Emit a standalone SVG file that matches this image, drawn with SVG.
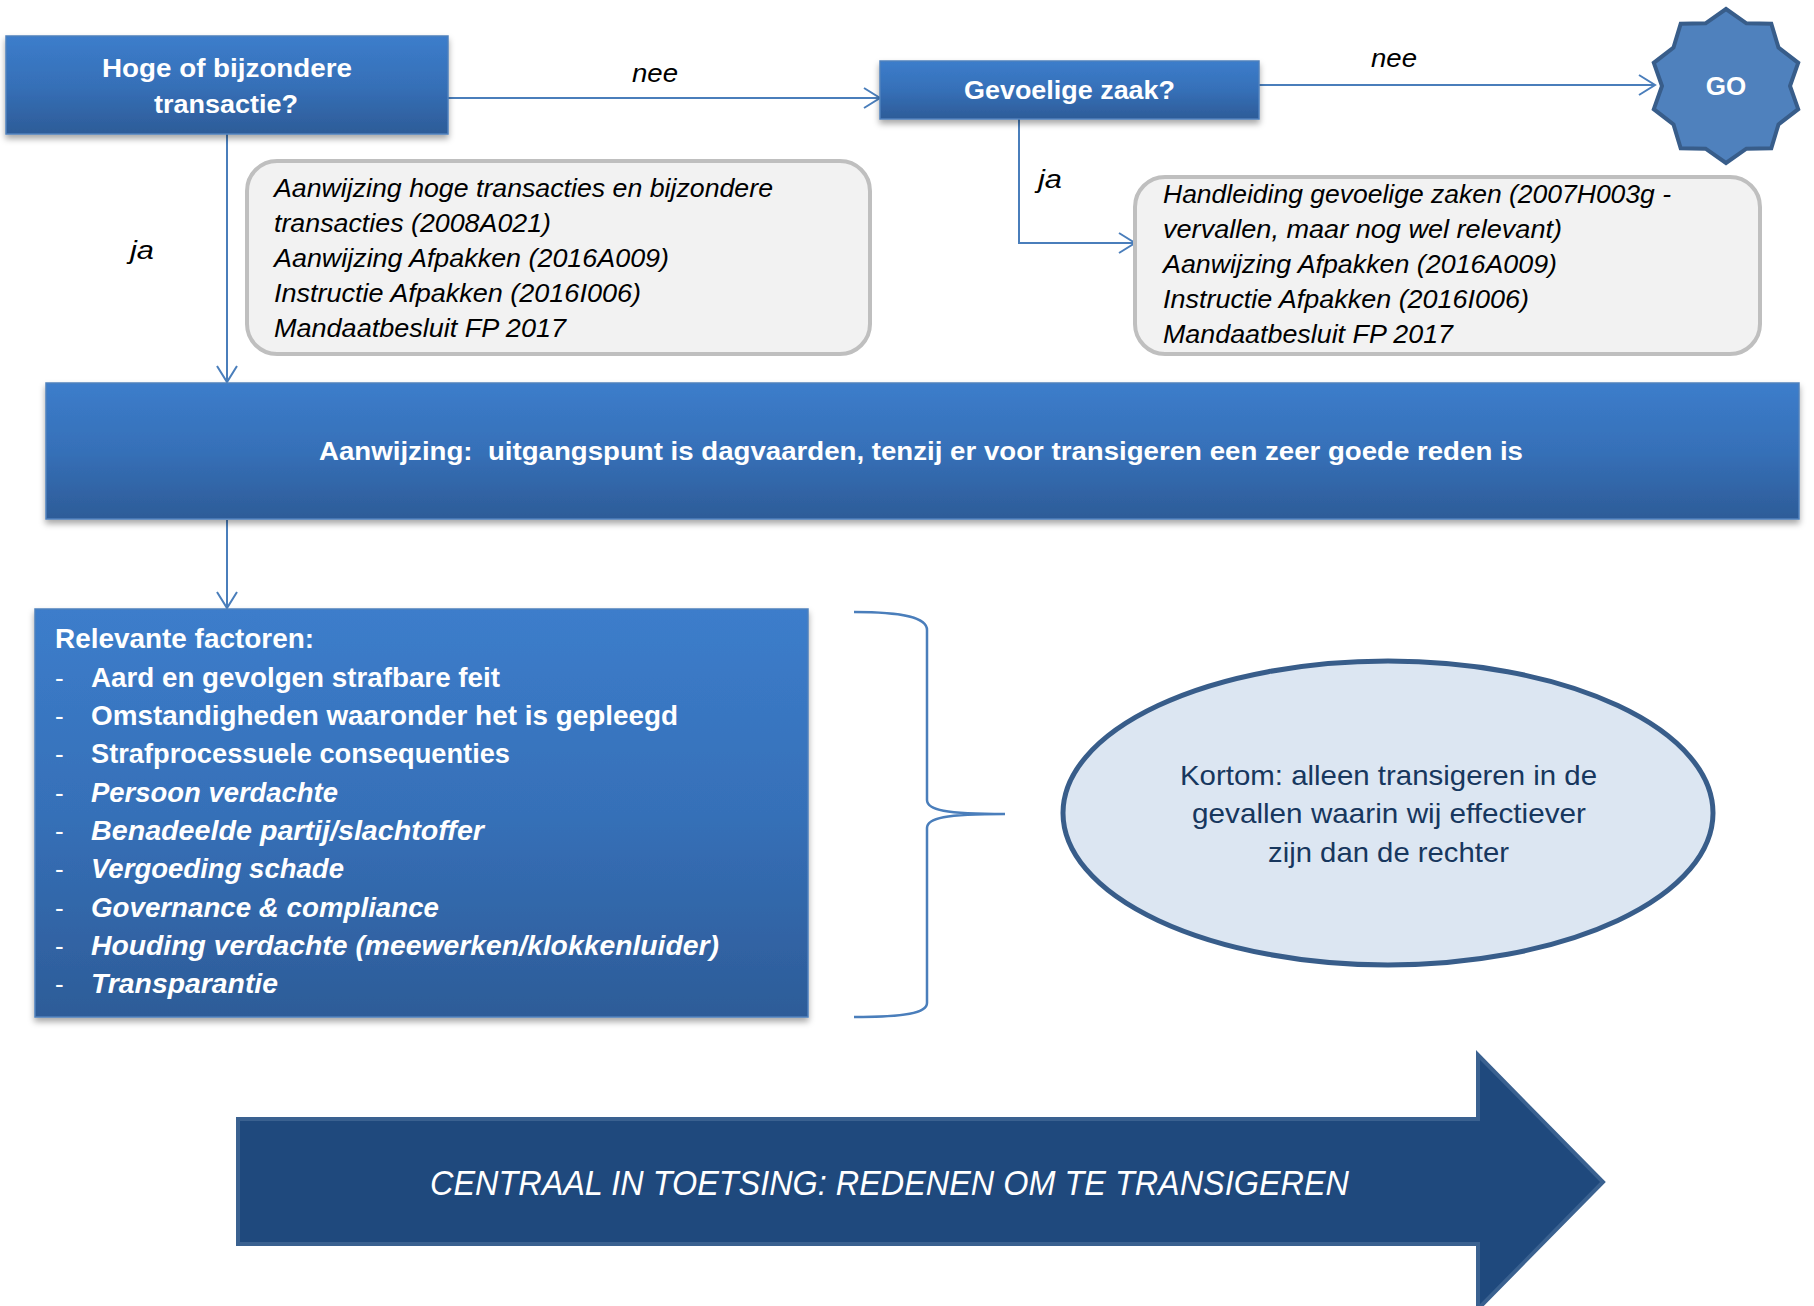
<svg xmlns="http://www.w3.org/2000/svg" width="1814" height="1306" viewBox="0 0 1814 1306">
<defs>
<linearGradient id="blueGrad" x1="0" y1="0" x2="0" y2="1">
<stop offset="0" stop-color="#3c7dcb"/>
<stop offset="0.5" stop-color="#3670b8"/>
<stop offset="1" stop-color="#2d5c98"/>
</linearGradient>
<filter id="shadow" x="-5%" y="-10%" width="110%" height="130%">
<feDropShadow dx="0" dy="4" stdDeviation="3" flood-color="#000" flood-opacity="0.35"/>
</filter>
<marker id="chev" markerUnits="userSpaceOnUse" markerWidth="22" markerHeight="24" refX="18" refY="12" orient="auto">
<path d="M2,2 L18,12 L2,22" fill="none" stroke="#4a7ebb" stroke-width="2"/>
</marker>
</defs>
<style>
.box{fill:url(#blueGrad);stroke:#4f81bd;stroke-width:1.5;filter:url(#shadow)}
.note{fill:#f2f2f2;stroke:#bfbfbf;stroke-width:4}
.wb{font-family:"Liberation Sans",Arial,sans-serif;font-weight:bold;fill:#fff}
.wbi{font-family:"Liberation Sans",Arial,sans-serif;font-weight:bold;font-style:italic;fill:#fff}
.wd{font-family:"Liberation Sans",Arial,sans-serif;fill:#fff}
.it{font-family:"Liberation Sans",Arial,sans-serif;font-style:italic;fill:#000}
.conn{fill:none;stroke:#4a7ebb;stroke-width:2}
.ell{font-family:"Liberation Sans",Arial,sans-serif;fill:#17375e;font-size:28px}
</style>

<g id="connectors">
<path class="conn" d="M448,98 H880" marker-end="url(#chev)"/>
<path class="conn" d="M1259,85 H1655" marker-end="url(#chev)"/>
<path class="conn" d="M227,134 V382" marker-end="url(#chev)"/>
<path class="conn" d="M1019,119 V243 H1135" marker-end="url(#chev)"/>
<path class="conn" d="M227,520 V608" marker-end="url(#chev)"/>
<text class="it" font-size="25" x="632" y="82" textLength="46" lengthAdjust="spacingAndGlyphs">nee</text>
<text class="it" font-size="25" x="1371" y="67" textLength="46" lengthAdjust="spacingAndGlyphs">nee</text>
<text class="it" font-size="25" x="130" y="259" textLength="24" lengthAdjust="spacingAndGlyphs">ja</text>
<text class="it" font-size="25" x="1038" y="188" textLength="24" lengthAdjust="spacingAndGlyphs">ja</text>
</g>

<g id="node-hoge">
<rect class="box" x="6" y="36" width="442" height="98"/>
<text class="wb" font-size="26" x="102" y="77" textLength="250" lengthAdjust="spacingAndGlyphs">Hoge of bijzondere</text>
<text class="wb" font-size="26" x="154" y="113" textLength="144" lengthAdjust="spacingAndGlyphs">transactie?</text>
</g>

<g id="node-gevoelig">
<rect class="box" x="880" y="61" width="379" height="58"/>
<text class="wb" font-size="26" x="964" y="99" textLength="211" lengthAdjust="spacingAndGlyphs">Gevoelige zaak?</text>
</g>

<g id="node-go">
<polygon points="1726.0,9.0 1746.4,23.3 1771.3,23.7 1778.5,47.6 1798.2,62.8 1790.0,86.0 1798.2,109.2 1778.5,124.4 1771.3,148.3 1746.4,148.7 1726.0,163.0 1705.6,148.7 1680.7,148.3 1673.5,124.4 1653.8,109.2 1662.0,86.0 1653.8,62.8 1673.5,47.6 1680.7,23.7 1705.6,23.3" fill="#4f81bd" stroke="#385d8a" stroke-width="4" stroke-linejoin="miter"/>
<text class="wb" font-size="26" x="1726" y="95" text-anchor="middle">GO</text>
</g>

<g id="node-note1">
<rect class="note" x="247" y="161" width="623" height="193" rx="30"/>
<text class="it" font-size="25" x="274" y="197" textLength="499" lengthAdjust="spacingAndGlyphs">Aanwijzing hoge transacties en bijzondere</text>
<text class="it" font-size="25" x="274" y="232" textLength="277" lengthAdjust="spacingAndGlyphs">transacties (2008A021)</text>
<text class="it" font-size="25" x="274" y="267" textLength="395" lengthAdjust="spacingAndGlyphs">Aanwijzing Afpakken (2016A009)</text>
<text class="it" font-size="25" x="274" y="302" textLength="367" lengthAdjust="spacingAndGlyphs">Instructie Afpakken (2016I006)</text>
<text class="it" font-size="25" x="274" y="337" textLength="292" lengthAdjust="spacingAndGlyphs">Mandaatbesluit FP 2017</text>
</g>

<g id="node-note2">
<rect class="note" x="1135" y="177" width="625" height="177" rx="30"/>
<text class="it" font-size="25" x="1163" y="203" textLength="508" lengthAdjust="spacingAndGlyphs">Handleiding gevoelige zaken (2007H003g -</text>
<text class="it" font-size="25" x="1163" y="238" textLength="399" lengthAdjust="spacingAndGlyphs">vervallen, maar nog wel relevant)</text>
<text class="it" font-size="25" x="1163" y="273" textLength="394" lengthAdjust="spacingAndGlyphs">Aanwijzing Afpakken (2016A009)</text>
<text class="it" font-size="25" x="1163" y="308" textLength="366" lengthAdjust="spacingAndGlyphs">Instructie Afpakken (2016I006)</text>
<text class="it" font-size="25" x="1163" y="343" textLength="290" lengthAdjust="spacingAndGlyphs">Mandaatbesluit FP 2017</text>
</g>

<g id="node-aanwijzing">
<rect class="box" x="46" y="383" width="1753" height="136"/>
<text class="wb" font-size="26" x="319" y="460" textLength="1204" lengthAdjust="spacingAndGlyphs" xml:space="preserve">Aanwijzing:  uitgangspunt is dagvaarden, tenzij er voor transigeren een zeer goede reden is</text>
</g>

<g id="node-factoren">
<rect class="box" x="35" y="609" width="773" height="408"/>
<text class="wb" font-size="28" x="55" y="648" textLength="259" lengthAdjust="spacingAndGlyphs">Relevante factoren:</text>
<g class="wd" font-size="26">
<text x="55" y="687">-</text>
<text x="55" y="725">-</text>
<text x="55" y="763">-</text>
<text x="55" y="802">-</text>
<text x="55" y="840">-</text>
<text x="55" y="878">-</text>
<text x="55" y="917">-</text>
<text x="55" y="955">-</text>
<text x="55" y="993">-</text>
</g>
<text class="wb" font-size="28" x="91" y="687" textLength="409" lengthAdjust="spacingAndGlyphs">Aard en gevolgen strafbare feit</text>
<text class="wb" font-size="28" x="91" y="725" textLength="587" lengthAdjust="spacingAndGlyphs">Omstandigheden waaronder het is gepleegd</text>
<text class="wb" font-size="28" x="91" y="763" textLength="419" lengthAdjust="spacingAndGlyphs">Strafprocessuele consequenties</text>
<text class="wbi" font-size="28" x="91" y="802" textLength="247" lengthAdjust="spacingAndGlyphs">Persoon verdachte</text>
<text class="wbi" font-size="28" x="91" y="840" textLength="393" lengthAdjust="spacingAndGlyphs">Benadeelde partij/slachtoffer</text>
<text class="wbi" font-size="28" x="91" y="878" textLength="253" lengthAdjust="spacingAndGlyphs">Vergoeding schade</text>
<text class="wbi" font-size="28" x="91" y="917" textLength="348" lengthAdjust="spacingAndGlyphs">Governance &amp; compliance</text>
<text class="wbi" font-size="28" x="91" y="955" textLength="628" lengthAdjust="spacingAndGlyphs">Houding verdachte (meewerken/klokkenluider)</text>
<text class="wbi" font-size="28" x="91" y="993" textLength="187" lengthAdjust="spacingAndGlyphs">Transparantie</text>
</g>

<g id="brace">
<path d="M854,612 C905,612 927,618 927,630 V800 C927,810 945,814 1005,814 C945,814 927,818 927,828 V1003 C927,1013 905,1017 854,1017" fill="none" stroke="#4a7ebb" stroke-width="2.5"/>
</g>

<g id="node-kortom">
<ellipse cx="1388" cy="813" rx="325" ry="152" fill="#dce6f2" stroke="#385d8a" stroke-width="5"/>
<text class="ell" x="1180" y="785" textLength="417" lengthAdjust="spacingAndGlyphs">Kortom: alleen transigeren in de</text>
<text class="ell" x="1192" y="823" textLength="394" lengthAdjust="spacingAndGlyphs">gevallen waarin wij effectiever</text>
<text class="ell" x="1268" y="862" textLength="241" lengthAdjust="spacingAndGlyphs">zijn dan de rechter</text>
</g>

<g id="node-arrow">
<path d="M238,1119 H1478 V1055 L1603,1182 L1478,1309 V1244 H238 Z" fill="#1f497d" stroke="#3a6190" stroke-width="4"/>
<text class="it" font-size="35" style="fill:#fff" x="430" y="1195" textLength="919" lengthAdjust="spacingAndGlyphs">CENTRAAL IN TOETSING: REDENEN OM TE TRANSIGEREN</text>
</g>
</svg>
